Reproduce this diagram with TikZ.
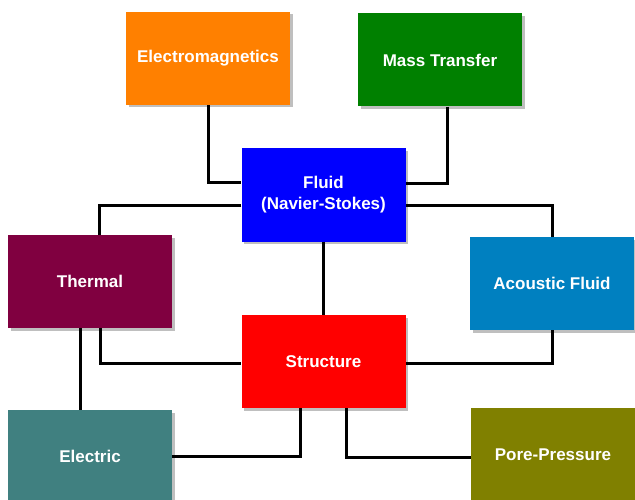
\documentclass[tikz,border=0pt]{standalone}
\usepackage{fontspec}
\setmainfont{Liberation Sans}
\usetikzlibrary{positioning,calc,shadows}
\definecolor{emcol}{HTML}{FF8000}
\definecolor{mtcol}{HTML}{008000}
\definecolor{flcol}{HTML}{0000FF}
\definecolor{thcol}{HTML}{800040}
\definecolor{accol}{HTML}{0080C0}
\definecolor{stcol}{HTML}{FF0000}
\definecolor{elcol}{HTML}{408080}
\definecolor{ppcol}{HTML}{808000}
\begin{document}
\begin{tikzpicture}[x=1pt,y=-1pt,
  b/.style={fill=#1,text=white,align=center,inner sep=0pt,minimum width=164pt,minimum height=93pt,
    font=\bfseries\fontsize{17}{21}\selectfont,
    drop shadow={shadow xshift=2.5pt,shadow yshift=-2.5pt,fill=black,opacity=0.25}},
  link/.style={draw=black,line width=3pt}]
  \useasboundingbox (0,0) rectangle (635,500);
  \clip (0,0) rectangle (635,500);
  \node[b=emcol](em) at (208,58.5){Electromagnetics};
  \node[b=mtcol](mt) at (440,60){Mass Transfer};
  \node[b=flcol](fl) at (323.5,195){Fluid\\(Navier-Stokes)};
  \node[b=thcol](th) at (90,281.5){Thermal};
  \node[b=accol](ac) at (552,283.5){Acoustic Fluid};
  \node[b=stcol](st) at (323.5,361.5){Structure};
  \node[b=elcol](el) at (90,456.5){Electric};
  \node[b=ppcol](pp) at (553,454.5){Pore-Pressure};
  \draw[link](em.south)|-([yshift=12pt]fl.west);
  \draw[link]([xshift=7pt]mt.south)|-([yshift=11pt]fl.east);
  \draw[link]([yshift=-11pt]fl.west)-|([xshift=9pt]th.north);
  \draw[link]([yshift=-11pt]fl.east)-|(ac.north);
  \draw[link](fl.south)--(st.north);
  \draw[link]([xshift=10pt]th.south)|-([yshift=-2pt]st.west);
  \draw[link](ac.south)|-([yshift=-2pt]st.east);
  \draw[link]([xshift=-10pt]th.south)--([xshift=-10pt]th.south|-el.north);
  \draw[link]([xshift=-23pt]st.south)|-(el.east);
  \draw[link]([xshift=23pt]st.south)|-([yshift=-2.5pt]pp.west);
\end{tikzpicture}
\end{document}
